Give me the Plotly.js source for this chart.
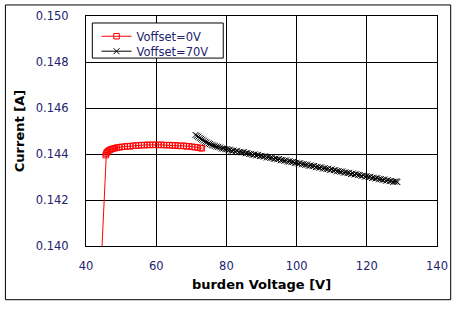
<!DOCTYPE html>
<html>
<head>
<meta charset="utf-8">
<script src="https://cdn.plot.ly/plotly-3.0.1.min.js"></script>
<style>
  html, body { margin: 0; padding: 0; background: #ffffff; }
  #chart { width: 460px; height: 309px; }
</style>
</head>
<body>
<div id="chart"></div>
<script>
// Burden voltage sweep, offset 0 V
const v0Voltage = [44.2, 45.6, 45.8, 46.0, 46.3, 46.7, 47.1, 47.6, 48.2, 48.8, 49.5, 50.2, 51.0, 51.8,
  52.6, 53.4, 54.2, 55.0, 55.8, 56.6, 57.4, 58.2, 59.0, 59.8, 60.6, 61.4, 62.2, 63.0, 63.8,
  64.6, 65.4, 66.2, 67.0, 67.8, 68.6, 69.4, 70.2, 71.0, 71.8, 72.6, 73.0];
const v0Current = [0.1388, 0.14395, 0.14402, 0.14408, 0.14413, 0.14417, 0.14420, 0.14423, 0.14425,
  0.14428, 0.14429, 0.14431, 0.14432, 0.14434, 0.14433, 0.14436, 0.14437, 0.14437, 0.14439,
  0.14438, 0.14440, 0.14439, 0.14440, 0.14440, 0.14439, 0.14440, 0.14439, 0.14438, 0.14439,
  0.14437, 0.14438, 0.14436, 0.14435, 0.14436, 0.14433, 0.14434, 0.14431, 0.14430, 0.14428,
  0.14426, 0.14425];

// Burden voltage sweep, offset 70 V
const v70Voltage = [71.2, 71.6, 72.0, 72.4, 72.8, 73.2, 73.6, 74.0, 74.4, 74.9, 75.3, 75.8, 76.2,
  76.7, 77.2, 77.7, 78.2, 78.7, 79.2, 79.7, 80.2, 80.6,
  81, 81.5, 82, 82.5, 83, 83.5, 84, 84.5, 85, 85.5, 86, 86.5, 87, 87.5, 88, 88.5, 89, 89.5,
  90, 90.5, 91, 91.5, 92, 92.5, 93, 93.5, 94, 94.5, 95, 95.5, 96, 96.5, 97, 97.5, 98, 98.5,
  99, 99.5, 100, 100.5, 101, 101.5, 102, 102.5, 103, 103.5, 104, 104.5, 105, 105.5, 106, 106.5,
  107, 107.5, 108, 108.5, 109, 109.5, 110, 110.5, 111, 111.5, 112, 112.5, 113, 113.5, 114, 114.5,
  115, 115.5, 116, 116.5, 117, 117.5, 118, 118.5, 119, 119.5, 120, 120.5, 121, 121.5, 122, 122.5,
  123, 123.5, 124, 124.5, 125, 125.5, 126, 126.5, 127, 127.5, 128, 128.4, 128.7];
const v70Current = [0.14483, 0.14479, 0.14475, 0.14470, 0.14466, 0.14462, 0.14458, 0.14453, 0.14450,
  0.14446, 0.14443, 0.14440, 0.14437, 0.14435, 0.14432, 0.14431, 0.14428, 0.14424, 0.14424,
  0.14421, 0.14421, 0.14417,
  0.14419, 0.14414, 0.14415, 0.14411, 0.14414, 0.14408, 0.14409, 0.14407, 0.14408, 0.14403,
  0.14404, 0.14400, 0.14401, 0.14397, 0.14398, 0.14394, 0.14396, 0.14391,
  0.14392, 0.14389, 0.14390, 0.14385, 0.14386, 0.14383, 0.14384, 0.14379, 0.14380, 0.14377,
  0.14378, 0.14373, 0.14374, 0.14371, 0.14372, 0.14367, 0.14368, 0.14365,
  0.14366, 0.14361, 0.14362, 0.14359, 0.14360, 0.14355, 0.14356, 0.14353, 0.14354, 0.14349,
  0.14350, 0.14347, 0.14348, 0.14343, 0.14344, 0.14341,
  0.14342, 0.14337, 0.14338, 0.14335, 0.14336, 0.14331, 0.14333, 0.14329, 0.14330, 0.14325,
  0.14326, 0.14323, 0.14324, 0.14319, 0.14320, 0.14317,
  0.14318, 0.14313, 0.14315, 0.14311, 0.14312, 0.14308, 0.14309, 0.14305, 0.14307, 0.14302,
  0.14303, 0.14300, 0.14301, 0.14296, 0.14297, 0.14294,
  0.14295, 0.14290, 0.14291, 0.14288, 0.14289, 0.14284, 0.14286, 0.14282, 0.14283, 0.14279,
  0.14280, 0.14281, 0.14278];

const xTicks = [40, 60, 80, 100, 120, 140];
const yTicks = [0.140, 0.142, 0.144, 0.146, 0.148, 0.150];

const seriesNames = ['Voffset=0V', 'Voffset=70V'];

const tickColor = '#22226e';
const baseFont = 'DejaVu Sans, sans-serif';

const traces = [
  {
    x: v0Voltage, y: v0Current, name: seriesNames[0], legend: 'legend',
    type: 'scatter', mode: 'lines+markers',
    line: { color: '#ff0000', width: 1 },
    marker: { symbol: 'square-open', size: 5.5, color: '#ff0000', line: { width: 1, color: '#ff0000' } }
  },
  {
    x: v70Voltage, y: v70Current, name: seriesNames[1], legend: 'legend2',
    type: 'scatter', mode: 'lines+markers',
    line: { color: '#000000', width: 1 },
    marker: { symbol: 'x-thin-open', size: 6, color: '#000000', line: { width: 1, color: '#000000' } }
  }
];

// one legend per series so the two rows sit close together inside a shared frame
const legendStyle = {
  x: 0.03, xanchor: 'left', yanchor: 'top',
  bgcolor: 'rgba(0,0,0,0)', borderwidth: 0,
  font: { family: baseFont, size: 11.5, color: tickColor },
  itemwidth: 30
};

const layout = {
  width: 460, height: 309,
  margin: { l: 86, r: 23, t: 16, b: 63 },
  paper_bgcolor: '#ffffff', plot_bgcolor: '#ffffff',
  font: { family: baseFont, size: 11.5, color: tickColor },
  showlegend: true,
  legend: Object.assign({}, legendStyle, { y: 0.975 }),
  legend2: Object.assign({}, legendStyle, { y: 0.910 }),
  xaxis: {
    range: [40, 140], tickvals: xTicks, ticktext: xTicks.map(String),
    showgrid: true, gridcolor: '#000000', gridwidth: 1,
    showline: true, linecolor: '#000000', linewidth: 1, mirror: true,
    zeroline: false, ticks: '', ticklabelstandoff: 9,
    tickfont: { family: baseFont, size: 11.5, color: tickColor },
    title: { text: 'burden Voltage [V]', standoff: 8,
      font: { family: baseFont, size: 13, color: '#000000', weight: 'bold' } }
  },
  yaxis: {
    range: [0.140, 0.150], tickvals: yTicks, ticktext: yTicks.map(v => v.toFixed(3)),
    showgrid: true, gridcolor: '#000000', gridwidth: 1,
    showline: true, linecolor: '#000000', linewidth: 1, mirror: true,
    zeroline: false, ticks: '', ticklabelstandoff: 14,
    tickfont: { family: baseFont, size: 11.5, color: tickColor },
    title: { text: 'Current [A]', standoff: 8,
      font: { family: baseFont, size: 13, color: '#000000', weight: 'bold' } }
  },
  shapes: [
    // outer chart frame
    { type: 'rect', xref: 'paper', yref: 'paper',
      x0: -0.2296, x1: 1.039, y0: -0.2335, y1: 1.048,
      line: { color: '#000000', width: 1 }, fillcolor: 'rgba(0,0,0,0)', layer: 'above' },
    // legend frame
    { type: 'rect', xref: 'paper', yref: 'paper',
      x0: 0.018, x1: 0.391, y0: 0.817, y1: 0.9696,
      line: { color: '#000000', width: 1 }, fillcolor: '#ffffff', layer: 'above' }
  ]
};

Plotly.newPlot('chart', traces, layout, { staticPlot: true, displayModeBar: false });
</script>
</body>
</html>
